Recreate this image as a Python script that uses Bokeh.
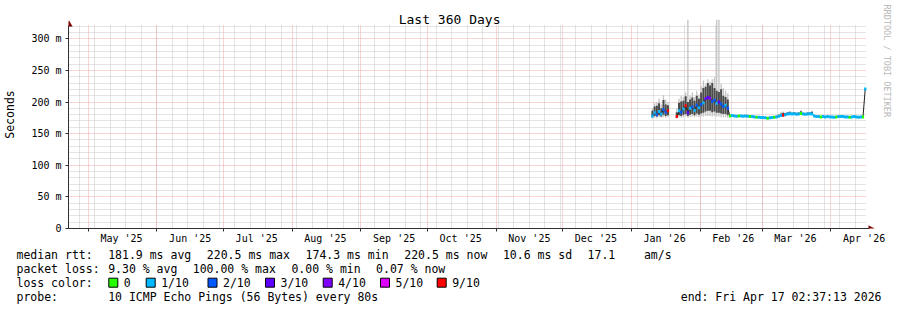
import math
from datetime import datetime, timedelta

from bokeh.plotting import figure
from bokeh.layouts import column
from bokeh.models import Range1d, FixedTicker, Label, PolyAnnotation, ColumnDataSource
from bokeh.core.properties import value
from bokeh.embed import file_html
from bokeh.resources import INLINE

# ------------------------------------------------------------------ data
TITLE = "Last 360 Days"
Y_LABEL = "Seconds"
END_TIME = datetime(2026, 4, 17, 2, 37, 13)
SPAN_DAYS = 360
FIRST_SAMPLE = datetime(2026, 1, 10)      # one consolidated sample per day from here
FIRST_WEEK = datetime(2025, 4, 27)        # first weekly grid line

MONTHS = [(2025, 5), (2025, 6), (2025, 7), (2025, 8), (2025, 9), (2025, 10),
          (2025, 11), (2025, 12), (2026, 1), (2026, 2), (2026, 3), (2026, 4)]
MONTH_LABELS = ["May '25", "Jun '25", "Jul '25", "Aug '25", "Sep '25", "Oct '25",
                "Nov '25", "Dec '25", "Jan '26", "Feb '26", "Mar '26", "Apr '26"]

Y_TICKS = [0, 50, 100, 150, 200, 250, 300]
Y_TICK_LABELS = ["0", "50 m", "100 m", "150 m", "200 m", "250 m", "300 m"]
Y_MINOR = [10, 20, 30, 40, 60, 70, 80, 90, 110, 120, 130, 140, 160, 170, 180, 190,
           210, 220, 230, 240, 260, 270, 280, 290, 310, 320]

LOSS_LEVELS = [0, 1, 2, 3, 4, 5, 9]
LOSS_NAMES = ["0", "1/10", "2/10", "3/10", "4/10", "5/10", "9/10"]
LOSS_COLORS = ["#26ff00", "#00b8ff", "#0059ff", "#5e00ff", "#7e00ff", "#dd00ff", "#ff0000"]

# daily values, Jan 10 2026 .. Apr 16 2026 (ms); None = no data
MEDIAN = [
    178, 183, 180, 185, 181, 188, 184, 186,
    None, None, None,
    177, 186, 184, 189, 194, 183, 190, 192, 187, 195, 191, 196, 199, 205, 207, 206,
    201, 203, 198, 200, 197, 193, 195, 190,
    178, 178.5, 178, 177.5, 178, 178, 177.5, 178, 177.5, 177, 177, 176.5, 176, 176, 175.5,
    175.5, 175, 174.3, 175, 175.5, 176, 176.5, 177.5, 178.5, 179, 180, 181, 181.5, 181,
    181.5, 180.5, 181, 182, 181, 180.5, 181, 181.5, 181, 178, 177, 177, 176.5, 177,
    176.5, 177, 176.5,
    176.5, 176, 176.5, 177, 177, 177, 176.5, 176.5, 176, 176.5, 177, 176.5, 176, 176.5,
    176.5, 220.5,
]
LOSS = [
    1, 1, 2, 1, 1, 2, 2, 9,
    None, None, None,
    9, 1, 2, 1, 9, 3, 1, 2, 1, 2, 1, 2, 1, 3, 3, 4, 2, 2, 1, 3, 2, 2, 1, 2,
    0, 1, 1, 1, 0, 1, 1, 1, 1, 0, 1, 1, 0, 1, 1,
    1, 1, 0, 1, 1, 0, 1, 1, 1, 9, 1, 1, 1, 1, 1, 1, 1, 0, 1, 1, 1, 1, 1, 1, 1, 1, 0, 1,
    1, 1, 1,
    1, 1, 0, 1, 1, 1, 1, 1, 0, 1, 1, 1, 1, 1, 0, 1,
]
MIN_RTT = [
    174, 175, 174, 176, 175, 176, 175, 176,
    None, None, None,
    174, 176, 175, 176, 177, 175, 176, 177, 176, 177, 176, 177, 177, 178, 178, 178,
    177, 178, 177, 177, 176, 176, 176, 175,
    176.5, 177, 176.5, 176, 176.5, 176.5, 176, 176.5, 176, 175.5, 175.5, 175, 174.5, 174.5, 174,
    174, 173.5, 173, 173.5, 174, 174.5, 175, 176, 177, 177, 178.5, 179.5, 180, 179.5,
    180, 179, 179.5, 180.5, 179.5, 179, 179.5, 180, 179.5, 176.5, 175.5, 175.5, 175,
    175.5, 175, 175.5, 175,
    175, 174.5, 175, 175.5, 175.5, 175.5, 175, 175, 174.5, 175, 175.5, 175, 174.5, 175,
    175, 218,
]
LOW_Q = [
    176, 178, 177, 179, 177, 180, 178, 179,
    None, None, None,
    175, 179, 178, 180, 181, 178, 180, 181, 179, 182, 180, 182, 183, 185, 186, 186,
    184, 185, 183, 183, 182, 181, 181, 179,
    177.5, 178, 177.5, 177, 177.5, 177.5, 177, 177.5, 177, 176.5, 176.5, 176, 175.5, 175.5, 175,
    175, 174.5, 174, 174.5, 175, 175.5, 176, 177, 178, 178.5, 179.5, 180.5, 181, 180.5,
    181, 180, 180.5, 181.5, 180.5, 180, 180.5, 181, 180.5, 177.5, 176.5, 176.5, 176,
    176.5, 176, 176.5, 176,
    176, 175.5, 176, 176.5, 176.5, 176.5, 176, 176, 175.5, 176, 176.5, 176, 175.5, 176,
    176, 219,
]
HIGH_Q = [
    186, 193, 194, 198, 190, 203, 196, 195,
    None, None, None,
    184, 199, 201, 202, 209, 200, 204, 207, 202, 210, 205, 215, 222, 224, 230, 226,
    230, 222, 218, 216, 220, 210, 208, 204,
    179, 179.5, 179, 178.5, 179, 179, 178.5, 179, 178.5, 178, 178, 177.5, 177, 177, 176.5,
    176.5, 176, 175.5, 176, 176.5, 177, 178, 180, 182, 183, 182.5, 184, 184.5, 183,
    184, 183, 183.5, 185.5, 183, 182.5, 183.5, 183.5, 184.5, 179, 178, 178, 177.5,
    178, 177.5, 178, 177.5,
    177.5, 177, 177.5, 178, 178, 178, 177.5, 177.5, 177, 177.5, 178, 177.5, 177, 177.5,
    177.5, 221,
]
MAX_RTT = [
    190, 198, 200, 205, 196, 211, 204, 200,
    None, None, None,
    190, 205, 210, 208, 215, 330, 210, 215, 208, 218, 212, 225, 234, 228, 236, 232,
    236, 239, 330, 330, 229, 222, 218, 214,
    180, 180.5, 180, 179.5, 180, 180, 179.5, 180, 179.5, 179, 179, 178.5, 178, 178, 177.5,
    177.5, 177, 176.5, 177, 177.5, 178, 179, 181, 184, 185, 183, 184, 185, 183.5,
    184, 183, 184, 187, 183.5, 183, 184, 184, 186, 180, 179, 179, 178.5,
    179, 178.5, 179, 178.5,
    178.5, 178, 178.5, 179, 179, 179, 178.5, 178.5, 178, 178.5, 179, 178.5, 178, 178.5,
    178.5, 222,
]

LEGEND_LINES = [
    [(0, "median rtt:"), (13, "181.9 ms avg"), (27, "220.5 ms max"), (41, "174.3 ms min"),
     (55, "220.5 ms now"), (69, "10.6 ms sd"), (81, "17.1"), (89, "am/s")],
    [(0, "packet loss:"), (13, "9.30 % avg"), (25, "100.00 % max"), (39, "0.00 % min"),
     (51, "0.07 % now")],
    [(0, "loss color:")],
    [(0, "probe:"), (13, "10 ICMP Echo Pings (56 Bytes) every 80s")],
]
END_TEXT = "end: Fri Apr 17 02:37:13 2026"
WATERMARK = "RRDTOOL / TOBI OETIKER"

# ------------------------------------------------------------------ layout constants
W = 897
H_MAIN, H_LEG = 247, 63
AX_L, AX_R, AX_T, AX_B = 66, 866, 25, 228     # data area of the chart (pixels)
Y_MAX = 321
PX_PER_DAY = (AX_R - AX_L) / SPAN_DAYS
PX_PER_MS = (AX_B - AX_T) / Y_MAX
FONT = "DejaVu Sans Mono"
CHAR_W = 7.05
TEXT_X0 = 16
LINE_Y = [254.2, 268.2, 282.2, 296.2]
SWATCH_X = [108.3, 145.7, 207.5, 265, 322.7, 380, 436.7]

START = END_TIME - timedelta(days=SPAN_DAYS)


def day_of(dt):
    return (dt - START).total_seconds() / 86400.0


def xd(px):
    return (px - AX_L) / PX_PER_DAY


def yd(py):
    return (AX_B - py) / PX_PER_MS


month_starts = [day_of(datetime(y, m, 1)) for (y, m) in MONTHS]
label_pos = [day_of(datetime(y, m, 1) + timedelta(days=15)) for (y, m) in MONTHS]
weeks = []
d = FIRST_WEEK
while d < END_TIME:
    weeks.append(day_of(d))
    d += timedelta(days=7)

xs = [day_of(FIRST_SAMPLE + timedelta(days=i)) + 0.5 for i in range(len(MEDIAN))]
valid = [i for i, m in enumerate(MEDIAN) if m is not None]
color_of = dict(zip(LOSS_LEVELS, LOSS_COLORS))

src = ColumnDataSource(dict(
    x=[xs[i] for i in valid],
    med=[MEDIAN[i] for i in valid],
    lo=[MIN_RTT[i] for i in valid],
    hi=[MAX_RTT[i] for i in valid],
    qlo=[LOW_Q[i] for i in valid],
    qhi=[HIGH_Q[i] for i in valid],
    color=[color_of[LOSS[i]] for i in valid],
))
line_src = ColumnDataSource(dict(
    x=xs, med=[float("nan") if m is None else m for m in MEDIAN]))

# ------------------------------------------------------------------ main figure
# frame spans from the left axis to the right edge and from the top edge to the x axis
p = figure(width=W, height=H_MAIN,
           x_range=Range1d(xd(AX_L), xd(W)), y_range=Range1d(0, yd(0)),
           min_border_left=AX_L, min_border_right=0, min_border_top=0,
           min_border_bottom=H_MAIN - AX_B,
           output_backend="svg", toolbar_location=None,
           background_fill_color="white", border_fill_color="white")
p.outline_line_color = None
p.frame_align = False

GRID_COLOR = "#c8c8c8"
MGRID_COLOR = "#f0a8a8"
AXIS_COLOR = "#303030"

p.xgrid.ticker = FixedTicker(ticks=month_starts, minor_ticks=weeks)
p.ygrid.ticker = FixedTicker(ticks=Y_TICKS, minor_ticks=Y_MINOR)
for g in (p.xgrid[0], p.ygrid[0]):
    g.grid_line_color = MGRID_COLOR
    g.grid_line_dash = "1 1"
    g.minor_grid_line_color = GRID_COLOR
    g.minor_grid_line_dash = "1 1"
p.xgrid[0].bounds = (0, SPAN_DAYS)
p.xgrid[0].cross_bounds = (0, Y_MAX)
p.ygrid[0].bounds = (0, Y_MAX)
p.ygrid[0].cross_bounds = (0, SPAN_DAYS)

xa = p.xaxis[0]
xa.ticker = FixedTicker(ticks=label_pos, minor_ticks=month_starts)
xa.major_label_overrides = dict(zip(label_pos, MONTH_LABELS))
xa.bounds = (0, xd(869))
xa.major_tick_line_color = None
xa.major_tick_out = 0
xa.major_tick_in = 0
xa.minor_tick_out = 3
xa.minor_tick_in = 0
xa.minor_tick_line_color = AXIS_COLOR
xa.axis_line_color = AXIS_COLOR
xa.major_label_standoff = 1
xa.major_label_text_font = FONT
xa.major_label_text_font_size = "10px"
xa.major_label_text_color = "black"

ya = p.yaxis[0]
ya.ticker = FixedTicker(ticks=Y_TICKS, minor_ticks=Y_MINOR)
ya.major_label_overrides = dict(zip(Y_TICKS, Y_TICK_LABELS))
ya.bounds = (0, Y_MAX)
ya.major_tick_out = 3
ya.major_tick_in = 0
ya.minor_tick_out = 0
ya.minor_tick_in = 0
ya.major_tick_line_color = AXIS_COLOR
ya.axis_line_color = AXIS_COLOR
ya.major_label_standoff = 4
ya.major_label_text_font = FONT
ya.major_label_text_font_size = "10px"
ya.major_label_text_color = "black"
ya.axis_label = Y_LABEL
ya.axis_label_text_font = FONT
ya.axis_label_text_font_size = "11.5px"
ya.axis_label_text_font_style = "normal"
ya.axis_label_text_color = "black"
ya.axis_label_standoff = 11

# smoke
p.vbar(x="x", width=0.6, bottom="lo", top="hi", source=src,
       fill_color="#c4c4c4", line_color=None)
p.vbar(x="x", width=0.9, bottom="qlo", top="qhi", source=src,
       fill_color="#4a4a4a", line_color=None)
# median
p.line(x="x", y="med", source=line_src, line_color="#202020", line_width=1)
p.rect(x="x", y="med", width=1.0, height=3, height_units="screen", source=src,
       fill_color="color", line_color=None)

# arrows
ARROW = "#7f0000"
p.add_layout(PolyAnnotation(xs=[xd(63), xd(66.5), xd(70)], ys=[yd(26), yd(20), yd(26)],
                            fill_color=ARROW, fill_alpha=1, line_color=ARROW, line_width=0.5))
p.add_layout(PolyAnnotation(xs=[xd(868), xd(874), xd(868)], ys=[yd(225), yd(228), yd(231)],
                            fill_color=ARROW, fill_alpha=1, line_color=ARROW, line_width=0.5))

# title
p.add_layout(Label(x=xd(448), y=yd(19), text=TITLE, text_align="center",
                   text_baseline="middle", text_font=FONT, text_font_size="13px",
                   text_color="black"))
# watermark
p.add_layout(Label(x=xd(886), y=yd(4), text=WATERMARK, angle=-math.pi / 2,
                   text_align="left", text_baseline="middle", text_font=FONT,
                   text_font_size="8.5px", text_color="#b8b8b8"))

# ------------------------------------------------------------------ legend figure
leg = figure(width=W, height=H_LEG, x_range=Range1d(0, W), y_range=Range1d(H_LEG, 0),
             min_border=0, x_axis_type=None, y_axis_type=None,
             output_backend="svg", toolbar_location=None,
             background_fill_color="white", border_fill_color="white")
leg.outline_line_color = None
leg.frame_align = False
leg.xgrid.visible = False
leg.ygrid.visible = False

tx, ty, tt = [], [], []
for row, items in zip(LINE_Y, LEGEND_LINES):
    for col, txt in items:
        tx.append(TEXT_X0 + col * CHAR_W)
        ty.append(row - H_MAIN)
        tt.append(txt)
row = LINE_Y[2] - H_MAIN
for sx, name in zip(SWATCH_X, LOSS_NAMES):
    tx.append(sx + 15)
    ty.append(row)
    tt.append(name)
leg.text(x=tx, y=ty, text=tt, text_baseline="middle", text_font=value(FONT),
         text_font_size="11.5px", text_color="black")
leg.text(x=[881], y=[LINE_Y[3] - H_MAIN], text=[END_TEXT], text_align="right",
         text_baseline="middle", text_font=value(FONT), text_font_size="11.5px",
         text_color="black")
leg.rect(x=[sx + 4.5 for sx in SWATCH_X], y=[row] * len(SWATCH_X), width=9, height=9,
         fill_color=LOSS_COLORS, line_color="black", line_width=1)

layout = column(p, leg, spacing=0)
open("out.html", "w").write(file_html(layout, INLINE))
